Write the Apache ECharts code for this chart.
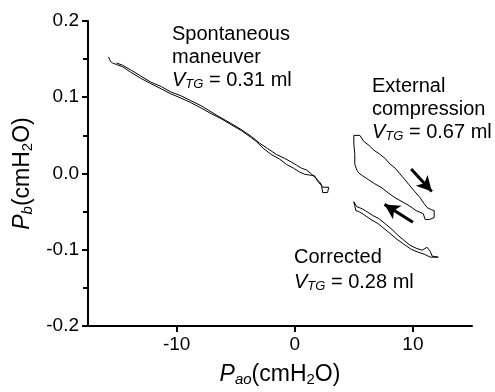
<!DOCTYPE html>
<html>
<head>
    <meta charset="utf-8">
    <title>Pb vs Pao</title>
    <script src="https://cdn.jsdelivr.net/npm/echarts@6/dist/echarts.min.js"></script>
    <style>
        html, body { margin: 0; padding: 0; background: #fff; }
        #main { width: 495px; height: 392px; }
    </style>
</head>
<body>
<div id="main"></div>
<script>
    // spontaneous maneuver loop (Pao, Pb)
    var spontaneous = [
        [-15.76, 0.153], [-15.6, 0.147], [-15.43, 0.145], [-15.09, 0.143], [-14.58, 0.140],
        [-13.9, 0.133], [-13.05, 0.125], [-12.2, 0.118], [-11.3, 0.111], [-10.5, 0.1045],
        [-9.64, 0.099], [-8.8, 0.093], [-7.94, 0.086], [-7.09, 0.0786], [-6.24, 0.072],
        [-5.39, 0.064], [-4.54, 0.0565], [-3.68, 0.047], [-3.26, 0.042], [-2.67, 0.033],
        [-1.99, 0.025], [-1.3, 0.019], [-0.71, 0.012], [-0.11, 0.007], [0.4, 0.002],
        [0.83, -0.001], [1.25, -0.002], [1.68, -0.003], [1.93, -0.010], [2.27, -0.016],
        [2.36, -0.025], [2.78, -0.025], [2.87, -0.018], [2.36, -0.018],
        [2.1, -0.011], [1.76, -0.006], [1.42, -0.0006], [1.0, 0.0045], [0.57, 0.007],
        [0.14, 0.011], [-0.28, 0.015], [-0.88, 0.020], [-1.56, 0.025], [-2.32, 0.033],
        [-3.0, 0.040], [-3.68, 0.0487], [-4.54, 0.0578], [-5.39, 0.0656], [-6.24, 0.073],
        [-7.09, 0.081], [-7.94, 0.089], [-8.8, 0.0955], [-9.64, 0.102], [-10.5, 0.107],
        [-11.3, 0.114], [-12.2, 0.120], [-13.05, 0.128], [-13.9, 0.136], [-14.58, 0.142],
        [-15.09, 0.145]
    ];
    // external compression loop
    var external = [
        [5.0, 0.050], [5.51, 0.050], [5.85, 0.042], [6.27, 0.037], [6.7, 0.0305],
        [7.2, 0.0253], [7.63, 0.020], [8.06, 0.0123], [8.49, 0.0071], [8.91, -0.0006],
        [9.34, -0.0084], [9.68, -0.0149], [10.1, -0.0227], [10.61, -0.0318], [10.95, -0.0396],
        [11.21, -0.0448], [11.55, -0.0474], [11.8, -0.0487], [11.8, -0.0578], [11.38, -0.0604],
        [11.04, -0.0604], [10.87, -0.0526], [10.27, -0.0487], [9.68, -0.0422], [9.08, -0.037],
        [8.49, -0.0318], [7.89, -0.0253], [7.38, -0.0188], [6.78, -0.0136], [6.27, -0.0084],
        [5.76, -0.0032], [5.42, 0.0006], [5.25, 0.0045], [5.08, 0.0123], [5.08, 0.0253],
        [5.0, 0.0383], [5.0, 0.050]
    ];
    // corrected loop
    var corrected = [
        [4.99, -0.0370], [5.25, -0.0435], [5.68, -0.0461], [6.1, -0.050], [6.61, -0.0552],
        [7.12, -0.0591], [7.63, -0.0656], [8.23, -0.0734], [8.74, -0.0812], [9.25, -0.0877],
        [9.76, -0.0942], [10.27, -0.098], [10.78, -0.1006], [11.2, -0.0968], [11.46, -0.102],
        [11.63, -0.1084], [12.14, -0.1097],
        [11.46, -0.1097], [10.95, -0.1058], [10.44, -0.1032], [9.85, -0.0994], [9.25, -0.0929],
        [8.66, -0.0864], [8.06, -0.0786], [7.55, -0.0721], [7.04, -0.0656], [6.44, -0.0604],
        [5.85, -0.0539], [5.42, -0.05], [5.17, -0.0487], [5.08, -0.0422], [4.99, -0.037]
    ];
    // arrows: [x0, y0, x1, y1]
    var arrows = [
        [9.85, 0.006, 11.6, -0.0235],
        [10.0, -0.064, 7.6, -0.0405]
    ];
    var xTicks = [-10, 0, 10];

    var chart = echarts.init(document.getElementById('main'));
    var FONT = '"Liberation Sans", Arial, sans-serif';

    function loop(name, data) {
        return {
            name: name,
            type: 'line',
            data: data,
            showSymbol: false,
            symbol: 'none',
            lineStyle: { color: '#000', width: 1 },
            silent: true,
            animation: false
        };
    }

    var series = [
        loop('spontaneous', spontaneous),
        loop('external', external),
        loop('corrected', corrected)
    ];
    series.push({
        type: 'line',
        data: [],
        animation: false,
        markLine: {
            silent: true,
            animation: false,
            symbol: ['none', 'arrow'],
            symbolSize: [12, 15],
            label: { show: false },
            lineStyle: { color: '#000', width: 3, type: 'solid' },
            data: arrows.map(function (a) {
                return [{ coord: [a[0], a[1]] }, { coord: [a[2], a[3]] }];
            })
        }
    });

    var main = { fontSize: 20, fontFamily: FONT, color: '#000', lineHeight: 22 };
    var italic = { fontSize: 20, fontFamily: FONT, color: '#000', fontStyle: 'italic', lineHeight: 22 };
    var sub = { fontSize: 13, fontFamily: FONT, color: '#000', fontStyle: 'italic', verticalAlign: 'bottom', lineHeight: 12 };

    function txt(x, y, s) {
        return {
            type: 'text', left: x, top: y, silent: true,
            style: {
                text: s,
                rich: { m: main, i: italic, s: sub },
                font: '20px ' + FONT,
                fill: '#000'
            }
        };
    }

    // rich styles for axis names
    var nameRich = {
        m: { fontSize: 23, fontFamily: FONT, color: '#000', lineHeight: 25 },
        i: { fontSize: 23, fontFamily: FONT, color: '#000', fontStyle: 'italic', lineHeight: 25 },
        s: { fontSize: 15, fontFamily: FONT, color: '#000', fontStyle: 'italic', verticalAlign: 'bottom', lineHeight: 10 },
        n: { fontSize: 15, fontFamily: FONT, color: '#000', verticalAlign: 'bottom', lineHeight: 10 }
    };

    var option = {
        backgroundColor: '#fff',
        animation: false,
        grid: { left: 88, right: 23, top: 21, bottom: 63 },
        xAxis: {
            type: 'value',
            min: -17.5,
            max: 15,
            name: '{i|P}{s|ao}{m|(cmH}{n|2}{m|O)}',
            nameLocation: 'middle',
            nameGap: 36,
            nameTextStyle: { rich: nameRich },
            axisLine: { onZero: false, lineStyle: { color: '#000', width: 2 } },
            axisTick: { customValues: xTicks, length: 6, lineStyle: { color: '#000', width: 2 } },
            axisLabel: { customValues: xTicks, color: '#000', fontSize: 19, fontFamily: FONT, margin: 9 },
            splitLine: { show: false }
        },
        yAxis: {
            type: 'value',
            min: -0.2,
            max: 0.2,
            interval: 0.1,
            name: '{i|P}{s|b}{m|(cmH}{n|2}{m|O)}',
            nameLocation: 'middle',
            nameRotate: 90,
            nameGap: 52,
            nameTextStyle: { rich: nameRich },
            axisLine: { onZero: false, lineStyle: { color: '#000', width: 2 } },
            axisTick: { length: 6, lineStyle: { color: '#000', width: 2 } },
            minorTick: { show: true, splitNumber: 2, length: 5, lineStyle: { color: '#000', width: 2 } },
            axisLabel: {
                color: '#000', fontSize: 19, fontFamily: FONT, margin: 9,
                formatter: function (v) { return v.toFixed(1); }
            },
            splitLine: { show: false }
        },
        graphic: [
            txt(172, 24, 'Spontaneous'),
            txt(172, 47, 'maneuver'),
            txt(172, 70, '{i|V}{s|TG}{m| = 0.31 ml}'),
            txt(372, 76, 'External'),
            txt(372, 99, 'compression'),
            txt(372, 122, '{i|V}{s|TG}{m| = 0.67 ml}'),
            txt(294, 247, 'Corrected'),
            txt(294, 272, '{i|V}{s|TG}{m| = 0.28 ml}')
        ],
        series: series
    };
    chart.setOption(option);
</script>
</body>
</html>
